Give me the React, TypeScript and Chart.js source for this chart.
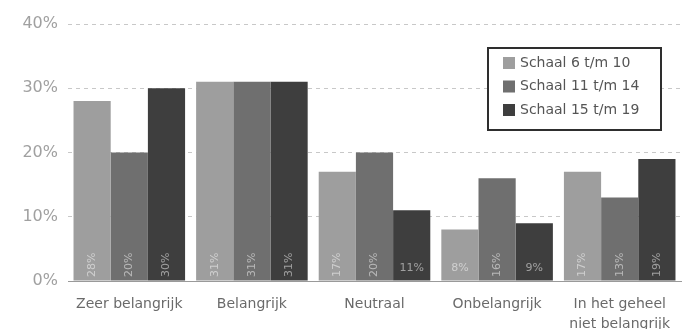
import React, { useEffect, useRef } from "react";
import { Chart, registerables } from "chart.js";

Chart.register(...registerables);

const categories: (string | string[])[] = [
  "Zeer belangrijk",
  "Belangrijk",
  "Neutraal",
  "Onbelangrijk",
  ["In het geheel", "niet belangrijk"],
];

const seriesNames = ["Schaal 6 t/m 10", "Schaal 11 t/m 14", "Schaal 15 t/m 19"];
const schaal6tm10 = [28, 31, 17, 8, 17];
const schaal11tm14 = [20, 31, 20, 16, 13];
const schaal15tm19 = [30, 31, 11, 9, 19];
const seriesColors = ["#9e9e9e", "#6f6f6f", "#3e3e3e"];

const yTicks = [0, 10, 20, 30, 40];

const FONT = "'DejaVu Sans', sans-serif";

// Value labels at the foot of each bar; short bars get horizontal text
const valueLabels = {
  id: "valueLabels",
  afterDatasetsDraw(chart: any) {
    const ctx = chart.ctx;
    const bottom = chart.chartArea.bottom;
    ctx.save();
    ctx.font = `11px ${FONT}`;
    ctx.fillStyle = "rgba(255,255,255,0.5)";
    chart.data.datasets.forEach((ds: any, di: number) => {
      const meta = chart.getDatasetMeta(di);
      meta.data.forEach((bar: any, i: number) => {
        const v = ds.data[i];
        const text = `${v}%`;
        if (v < 12) {
          ctx.textAlign = "center";
          ctx.textBaseline = "middle";
          ctx.fillText(text, bar.x, bottom - 13);
        } else {
          ctx.translate(bar.x, bottom - 4);
          ctx.rotate(-Math.PI / 2);
          ctx.textAlign = "left";
          ctx.textBaseline = "middle";
          ctx.fillText(text, 0, 0);
          ctx.setTransform(1, 0, 0, 1, 0, 0);
        }
      });
    });
    ctx.restore();
  },
};

// Boxed legend drawn in the upper right of the plot
const boxedLegend = {
  id: "boxedLegend",
  afterDraw(chart: any) {
    const ctx = chart.ctx;
    const x = 488, y = 48, w = 173, h = 82;
    ctx.save();
    ctx.fillStyle = "#ffffff";
    ctx.fillRect(x, y, w, h);
    ctx.lineWidth = 2;
    ctx.strokeStyle = "#2e2e2e";
    ctx.strokeRect(x, y, w, h);
    ctx.font = `14px ${FONT}`;
    ctx.textBaseline = "middle";
    ctx.textAlign = "left";
    chart.data.datasets.forEach((ds: any, i: number) => {
      const cy = y + 15 + i * 23.5;
      ctx.fillStyle = ds.backgroundColor;
      ctx.fillRect(x + 15, cy - 6, 12, 12);
      ctx.fillStyle = "#555555";
      ctx.fillText(ds.label, x + 32, cy);
    });
    ctx.restore();
  },
};

export default function App() {
  const canvasRef = useRef<HTMLCanvasElement>(null);

  useEffect(() => {
    document.body.style.margin = "0";
    const seriesValues = [schaal6tm10, schaal11tm14, schaal15tm19];
    const chart = new Chart(canvasRef.current!, {
      type: "bar",
      data: {
        labels: categories,
        datasets: seriesNames.map((name, i) => ({
          label: name,
          data: seriesValues[i],
          backgroundColor: seriesColors[i],
          borderWidth: 0,
          barPercentage: 1,
          categoryPercentage: 0.91,
        })),
      },
      options: {
        animation: false,
        responsive: false,
        maintainAspectRatio: false,
        layout: { padding: { top: 24, right: 1, left: 0, bottom: 0 } },
        plugins: {
          legend: { display: false },
          tooltip: { enabled: false },
        },
        scales: {
          x: {
            grid: { display: false },
            border: { display: true, color: "#9a9a9a", width: 1 },
            ticks: {
              color: "#6a6a6a",
              font: { family: FONT, size: 14, lineHeight: 1.45 },
              padding: 5,
              maxRotation: 0,
              autoSkip: false,
            },
            afterFit(scale: any) {
              scale.height = 48;
            },
          },
          y: {
            min: 0,
            max: 40,
            afterBuildTicks(scale: any) {
              scale.ticks = yTicks.map((v) => ({ value: v }));
            },
            ticks: {
              color: "#a0a0a0",
              font: { family: FONT, size: 16 },
              padding: 10,
              callback: (v: any) => `${v}%`,
            },
            grid: {
              color: "#c8c8c8",
              drawTicks: false,
              lineWidth: 1,
            },
            border: { display: false, dash: [4, 4] },
            afterFit(scale: any) {
              scale.width = 68;
            },
          },
        },
      },
      plugins: [valueLabels, boxedLegend],
    });
    return () => chart.destroy();
  }, []);

  return (
    <div style={{ width: 682, height: 329 }}>
      <canvas ref={canvasRef} width={682} height={329} />
    </div>
  );
}
